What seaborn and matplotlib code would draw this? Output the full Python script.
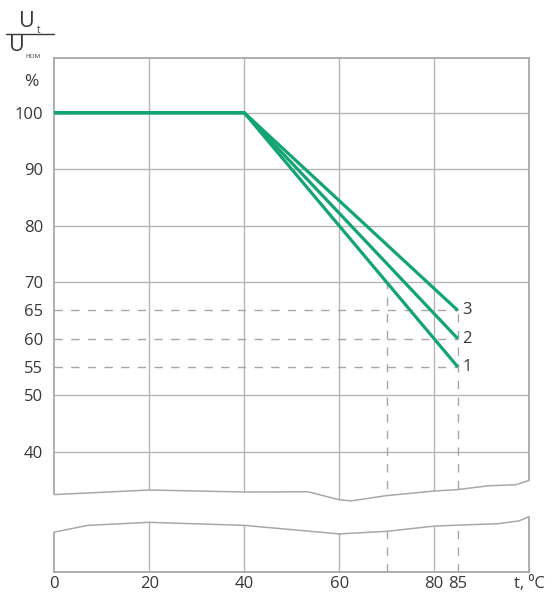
import numpy as np
import pandas as pd
import matplotlib
matplotlib.use("Agg")
import matplotlib.pyplot as plt
import seaborn as sns
from matplotlib.lines import Line2D
from matplotlib.patches import Polygon

# ---- data ----
temps = [0, 40, 85]
curve1 = [100, 100, 55]
curve2 = [100, 100, 60]
curve3 = [100, 100, 65]
curve_names = ["1", "2", "3"]

y_ticks = [100, 90, 80, 70, 65, 60, 55, 50, 40]
x_ticks = [0, 20, 40, 60, 80, 85, 100]
x_tick_labels = ["0", "20", "40", "60", "80", "85", "t, \u2070C"]
grid_y = [100, 90, 80, 70, 50, 40]
grid_x = [20, 40, 60, 80]
dashed_y = [65, 60, 55]
dashed_x = [70, 85]
dashed_x_top = [70, 65]

# axis-break wave outlines (decoration)
wave_up_x = [0, 20, 40, 53.5, 60, 62.5, 70, 80, 85, 91.3, 97.2, 100]
wave_up_y = [32.41, 33.22, 32.87, 32.90, 31.49, 31.29, 32.23, 33.04, 33.29, 33.96, 34.16, 34.90]
wave_lo_x = [0, 7.0, 20, 40, 60, 70, 80, 85, 93.5, 97.9, 100]
wave_lo_y = [25.77, 26.96, 27.5, 26.96, 25.45, 25.9, 26.83, 27.0, 27.26, 27.75, 28.5]

# ---- style ----
sns.set_style("white")
plt.rcParams["font.family"] = ["Open Sans", "DejaVu Sans"]

GREEN = "#13a476"
GRID = "#b5b5b5"
FRAME = "#a8a8a8"
DASH = "#a6a6a6"
TXT = "#383838"

W, H = 550, 594
fig = plt.figure(figsize=(W / 100, H / 100), dpi=100)
ax_l, ax_r, ax_t, ax_b = 54.4, 529.0, 58.3, 571.7
ax = fig.add_axes([ax_l / W, 1 - ax_b / H, (ax_r - ax_l) / W, (ax_b - ax_t) / H])

df = pd.DataFrame({
    "t": temps * 3,
    "u": curve1 + curve2 + curve3,
    "curve": [n for n in curve_names for _ in temps],
})
sns.lineplot(data=df, x="t", y="u", hue="curve", palette=[GREEN] * 3,
             legend=False, lw=2.3, ax=ax, zorder=5, solid_capstyle="butt")

ax.set_xlim(0, 100)
ax.set_ylim(18.76, 109.63)

# grid
for gy in grid_y:
    ax.axhline(gy, color=GRID, lw=1.0, zorder=1)
for gx in grid_x:
    ax.axvline(gx, color=GRID, lw=1.0, zorder=1)

# dashed guides
for dy in dashed_y:
    ax.plot([0, 85], [dy, dy], color=DASH, lw=1.0, dashes=(6, 6), zorder=2)
for dx, top in zip(dashed_x, dashed_x_top):
    ax.plot([dx, dx], [18.76, top], color=DASH, lw=1.0, dashes=(6, 6), zorder=2)

# frame
for s in ax.spines.values():
    s.set_color(FRAME)
    s.set_linewidth(1.3)
    s.set_zorder(2.5)

# axis break
poly_x = [-1.0] + wave_up_x + [101.0, 101.0] + wave_lo_x[::-1] + [-1.0]
poly_y = [wave_up_y[0]] + wave_up_y + [wave_up_y[-1], wave_lo_y[-1]] + wave_lo_y[::-1] + [wave_lo_y[0]]
ax.add_patch(Polygon(np.column_stack([poly_x, poly_y]), closed=True,
                     facecolor="white", edgecolor="none", zorder=4, clip_on=False))
ax.plot(wave_up_x, wave_up_y, color=FRAME, lw=1.1, zorder=4.5, clip_on=False)
ax.plot(wave_lo_x, wave_lo_y, color=FRAME, lw=1.1, zorder=4.5, clip_on=False)

# curve labels
for name, ys in zip(curve_names, [curve1, curve2, curve3]):
    ax.text(86.0, ys[-1], name, ha="left", va="center", fontsize=12, color=TXT)

# ticks
ax.set_yticks(y_ticks)
ax.set_yticklabels([str(v) for v in y_ticks])
ax.set_xticks(x_ticks)
ax.set_xticklabels(x_tick_labels)
ax.tick_params(axis="both", length=0, labelsize=12, labelcolor=TXT)
ax.tick_params(axis="y", pad=8)
ax.tick_params(axis="x", pad=3)
ax.set_xlabel("")
ax.set_ylabel("")
ax.grid(False)

# y-axis title: U_t / U_ном, %
def fx(px):
    return px / W

def fy(py):
    return 1 - py / H

fig.text(fx(27.0), fy(21.5), "U", ha="center", va="center", fontsize=15.5, color=TXT)
fig.text(fx(38.3), fy(30.3), "t", ha="center", va="center", fontsize=7, color=TXT)
fig.add_artist(Line2D([fx(6), fx(54)], [fy(34.3), fy(34.3)], color=TXT, lw=1.0))
fig.text(fx(16.8), fy(45.5), "U", ha="center", va="center", fontsize=15.5, color=TXT)
fig.text(fx(33.3), fy(57.0), "НОМ", ha="center", va="center", fontsize=4.5, color=TXT)
fig.text(fx(31.0), fy(81.5), "%", ha="center", va="center", fontsize=12.5, color=TXT)

fig.savefig("out.png", dpi=100)
